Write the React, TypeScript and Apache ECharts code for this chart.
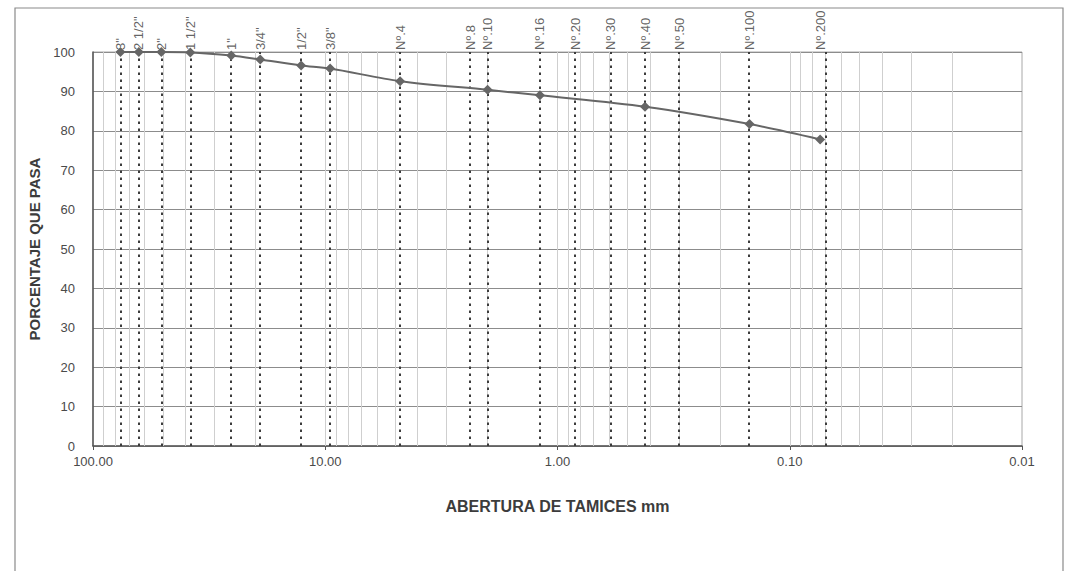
import React, { useEffect, useRef } from "react";
import * as echarts from "echarts";

const sieveLabels = ['3"', '2 1/2"', '2"', '1 1/2"', '1"', '3/4"', '1/2"', '3/8"', "Nº.4", "Nº.8", "Nº.10", "Nº.16", "Nº.20", "Nº.30", "Nº.40", "Nº.50", "Nº.100", "Nº.200"];
const sieveSizes = [76.2, 63.5, 50.8, 38.1, 25.4, 19.05, 12.7, 9.525, 4.76, 2.38, 2.0, 1.19, 0.84, 0.59, 0.42, 0.297, 0.149, 0.074];
const percentPassing: (number | null)[] = [100, 100, 100, 99.9, 99.1, 98.1, 96.6, 95.8, 92.6, null, 90.4, 89.0, null, null, 86.1, null, 81.7, 77.8];
const minorGridValues = [
  0.02, 0.03, 0.04, 0.05, 0.06, 0.07, 0.08, 0.09,
  0.1, 0.2, 0.3, 0.4, 0.5, 0.6, 0.7, 0.8, 0.9,
  1, 2, 3, 4, 5, 6, 7, 8, 9,
  10, 20, 30, 40, 50, 60, 70, 80, 90,
];
const yTitle = "PORCENTAJE QUE PASA";
const xTitle = "ABERTURA DE TAMICES mm";

export default function App() {
  const ref = useRef<HTMLDivElement>(null);
  useEffect(() => {
    if (!ref.current) return;
    const chart = echarts.init(ref.current, null, { renderer: "svg" });
    const curve: [number, number][] = [];
    sieveSizes.forEach((s, i) => {
      const p = percentPassing[i];
      if (p !== null) curve.push([s, p]);
    });
    const font = "Liberation Sans, Arial, sans-serif";
    chart.setOption({
      animation: false,
      backgroundColor: "#ffffff",
      textStyle: { fontFamily: font },
      grid: {
        left: 93,
        right: 45,
        top: 52,
        bottom: 125,
        show: true,
        borderColor: "#a8a8a8",
        borderWidth: 1,
      },
      xAxis: {
        type: "log",
        logBase: 10,
        min: 0.01,
        max: 100,
        inverse: true,
        name: xTitle,
        nameLocation: "middle",
        nameGap: 52,
        nameTextStyle: { fontSize: 16, fontWeight: "bold", color: "#3c3c3c", fontFamily: font },
        axisLine: { lineStyle: { color: "#555", width: 1.5 } },
        axisTick: { show: true, length: 4, lineStyle: { color: "#555" } },
        axisLabel: {
          color: "#4a4a4a",
          fontSize: 13,
          margin: 9,
          fontFamily: font,
          formatter: (v: number) => v.toFixed(2),
        },
        splitLine: { show: false },
        minorTick: { show: false },
      },
      yAxis: {
        type: "value",
        min: 0,
        max: 100,
        interval: 10,
        name: yTitle,
        nameLocation: "middle",
        nameGap: 47,
        nameTextStyle: { fontSize: 15, fontWeight: "bold", color: "#3c3c3c", fontFamily: font },
        axisLine: { show: true, lineStyle: { color: "#555", width: 1.5 } },
        axisTick: { show: false },
        axisLabel: { color: "#4a4a4a", fontSize: 13, margin: 18, fontFamily: font },
        splitLine: { show: true, lineStyle: { color: "#8c8c8c", width: 1 } },
      },
      graphic: [
        {
          type: "rect",
          shape: { x: 15, y: 8, width: 1048, height: 600 },
          style: { fill: "none", stroke: "#8a8a8a", lineWidth: 1.2 },
          silent: true,
          z: -10,
        },
      ],
      series: [
        {
          type: "scatter",
          silent: true,
          symbolSize: 0,
          data: minorGridValues.map((v) => [v, 0]),
          z: 1,
          markLine: {
            silent: true,
            symbol: "none",
            label: { show: false },
            lineStyle: { color: "#cfcfcf", width: 1, type: "solid" },
            data: minorGridValues.map((v) => ({ xAxis: v })),
          },
        },
        {
          type: "scatter",
          silent: true,
          symbolSize: 0,
          data: sieveSizes.map((s, i) => ({ value: [s, 100], name: sieveLabels[i] })),
          z: 3,
          label: {
            show: true,
            formatter: (p: any) => p.name,
            position: "top",
            distance: 2,
            rotate: 90,
            align: "left",
            verticalAlign: "middle",
            color: "#3a3a3a",
            fontSize: 13,
            fontFamily: font,
          },
          markLine: {
            silent: true,
            symbol: "none",
            label: { show: false },
            lineStyle: { color: "#3c3c3c", width: 2, type: [2.5, 4.5] },
            data: sieveSizes.map((s) => ({ xAxis: s })),
          },
        },
        {
          type: "line",
          data: curve,
          smooth: 0.3,
          symbol: "diamond",
          symbolSize: 10,
          itemStyle: { color: "#666" },
          lineStyle: { color: "#666", width: 2 },
          z: 5,
        },
      ],
    });
    return () => chart.dispose();
  }, []);
  return (
    <div
      ref={ref}
      style={{ position: "fixed", left: 0, top: 0, width: 1067, height: 571, background: "#fff" }}
    />
  );
}
